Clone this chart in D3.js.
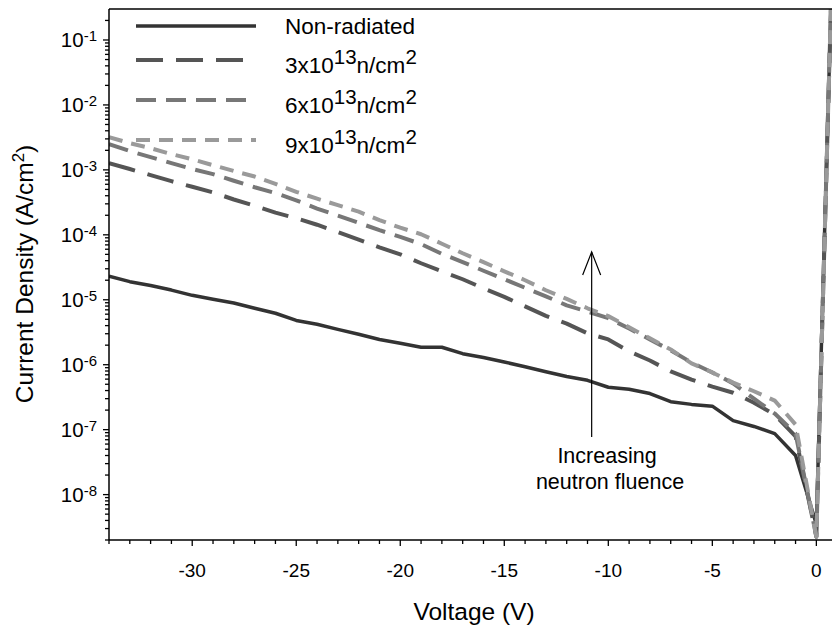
<!DOCTYPE html>
<html>
<head>
<meta charset="utf-8">
<script src="https://cdn.jsdelivr.net/npm/d3@7"></script>
<style>
  body { margin: 0; background: #fff; }
  svg { font-family: "Liberation Sans", Arial, sans-serif; }
</style>
</head>
<body>
<div id="chart"></div>
<script>
// data (V, A/cm2)
var voltage = [-34, -33, -32, -31, -30, -29, -28, -27, -26, -25,
  -24, -23, -22, -21, -20, -19, -18, -17, -16, -15,
  -14, -13, -12, -11, -10, -9, -8, -7, -6, -5,
  -4, -3, -2, -1, 0, 0.7];

var nonRadiated = [2.3e-5, 1.9e-5, 1.66e-5, 1.41e-5, 1.17e-5, 1.02e-5, 8.9e-6, 7.4e-6, 6.2e-6, 4.8e-6,
  4.2e-6, 3.5e-6, 2.95e-6, 2.45e-6, 2.14e-6, 1.86e-6, 1.86e-6, 1.48e-6, 1.29e-6, 1.1e-6,
  9.3e-7, 7.8e-7, 6.6e-7, 5.75e-7, 4.5e-7, 4.2e-7, 3.6e-7, 2.7e-7, 2.45e-7, 2.3e-7,
  1.38e-7, 1.12e-7, 8.7e-8, 4.0e-8, 3.5e-9, 0.3];

var fluence3 = [1.27e-3, 1.03e-3, 8.3e-4, 6.7e-4, 5.5e-4, 4.5e-4, 3.5e-4, 2.8e-4, 2.2e-4, 1.8e-4,
  1.43e-4, 1.1e-4, 8.4e-5, 6.4e-5, 5.0e-5, 3.65e-5, 2.74e-5, 2.07e-5, 1.5e-5, 1.11e-5,
  7.9e-6, 5.65e-6, 4.3e-6, 3.04e-6, 2.45e-6, 1.6e-6, 1.16e-6, 7.9e-7, 5.9e-7, 4.6e-7,
  3.7e-7, 2.6e-7, 1.7e-7, 7.9e-8, 2.25e-9, 0.3];

var fluence6 = [2.5e-3, 1.95e-3, 1.57e-3, 1.27e-3, 1.03e-3, 8.6e-4, 6.8e-4, 5.4e-4, 4.4e-4, 3.4e-4,
  2.54e-4, 1.97e-4, 1.53e-4, 1.18e-4, 9.3e-5, 7.2e-5, 5.1e-5, 3.8e-5, 2.8e-5, 2.07e-5,
  1.53e-5, 1.13e-5, 8.2e-6, 6.6e-6, 5.2e-6, 3.6e-6, 2.45e-6, 1.66e-6, 1.08e-6, 7.6e-7,
  5.15e-7, 3.0e-7, 1.77e-7, 8.7e-8, 2.25e-9, 0.3];

var fluence9 = [3.19e-3, 2.58e-3, 2.16e-3, 1.75e-3, 1.46e-3, 1.18e-3, 9.6e-4, 7.9e-4, 6.1e-4, 4.6e-4,
  3.6e-4, 2.86e-4, 2.27e-4, 1.68e-4, 1.29e-4, 1.02e-4, 7.3e-5, 5.2e-5, 3.8e-5, 2.74e-5,
  2.0e-5, 1.4e-5, 1.03e-5, 7.4e-6, 5.6e-6, 3.76e-6, 2.55e-6, 1.72e-6, 1.05e-6, 7.6e-7,
  5.3e-7, 3.9e-7, 2.8e-7, 1.2e-7, 2.25e-9, 0.3];

var seriesNames = ["Non-radiated", "3x10", "6x10", "9x10"];
var xTicks = [-30, -25, -20, -15, -10, -5, 0];
var yDecades = [-8, -7, -6, -5, -4, -3, -2, -1];

var width = 832, height = 628;
var plotLeft = 109, plotRight = 833, plotTop = 9, plotBottom = 540;

var svg = d3.select("#chart")
  .append("svg")
  .attr("width", width)
  .attr("height", height);

svg.append("rect").attr("width", width).attr("height", height).attr("fill", "#fff");

var x = d3.scaleLinear().domain([-34, 0.8]).range([plotLeft, plotRight]);
var y = d3.scaleLog().domain([2e-9, 0.3]).range([plotBottom, plotTop]);

// series styles
var styles = [
  {values: nonRadiated, color: "#333", width: 3.5, dash: null},
  {values: fluence3, color: "#555", width: 4, dash: "27,13"},
  {values: fluence6, color: "#777", width: 4, dash: "20,10"},
  {values: fluence9, color: "#9a9a9a", width: 4, dash: "14,9"}
];

svg.append("clipPath").attr("id", "plotClip")
  .append("rect")
  .attr("x", plotLeft).attr("y", plotTop)
  .attr("width", plotRight - plotLeft).attr("height", plotBottom - plotTop);

var line = d3.line()
  .x(function(d) { return x(d[0]); })
  .y(function(d) { return y(d[1]); });

var plot = svg.append("g").attr("clip-path", "url(#plotClip)");

plot.selectAll("path")
  .data(styles)
  .enter().append("path")
    .attr("fill", "none")
    .attr("stroke", function(d) { return d.color; })
    .attr("stroke-width", function(d) { return d.width; })
    .attr("stroke-dasharray", function(d) { return d.dash; })
    .attr("stroke-linejoin", "round")
    .attr("d", function(d) { return line(d.values.map(function(v, i) { return [voltage[i], v]; })); });

// x axis
var xAxis = svg.append("g");
xAxis.append("line")
  .attr("x1", plotLeft).attr("x2", width).attr("y1", plotBottom).attr("y2", plotBottom)
  .attr("stroke", "#000").attr("stroke-width", 1.5);
xAxis.selectAll(".minor")
  .data(d3.range(-34, 1))
  .enter().append("line")
    .attr("x1", x).attr("x2", x)
    .attr("y1", plotBottom)
    .attr("y2", function(d) { return plotBottom + (d % 5 === 0 ? 6 : 4); })
    .attr("stroke", "#000").attr("stroke-width", 1.3);
xAxis.selectAll("text")
  .data(xTicks)
  .enter().append("text")
    .attr("x", x)
    .attr("y", 577)
    .attr("text-anchor", "middle")
    .attr("font-size", "19px")
    .text(function(d) { return d; });

// top frame
svg.append("line")
  .attr("x1", plotLeft).attr("x2", width).attr("y1", plotTop).attr("y2", plotTop)
  .attr("stroke", "#000").attr("stroke-width", 1.5);

// y axis
var yAxis = svg.append("g");
yAxis.append("line")
  .attr("x1", plotLeft).attr("x2", plotLeft).attr("y1", plotTop).attr("y2", plotBottom)
  .attr("stroke", "#000").attr("stroke-width", 1.5);

var minorY = [];
d3.range(-9, 0).forEach(function(e) {
  for (var k = 1; k <= 9; ++k) {
    var v = k * Math.pow(10, e);
    if (v >= 2e-9 && v <= 0.3) minorY.push({v: v, major: k === 1});
  }
});

yAxis.selectAll(".tick")
  .data(minorY)
  .enter().append("line")
    .attr("x1", plotLeft)
    .attr("x2", function(d) { return plotLeft - (d.major ? 6 : 4); })
    .attr("y1", function(d) { return y(d.v); })
    .attr("y2", function(d) { return y(d.v); })
    .attr("stroke", "#000").attr("stroke-width", 1.3);

var yLabel = yAxis.selectAll("text")
  .data(yDecades)
  .enter().append("text")
    .attr("x", 97)
    .attr("y", function(d) { return y(Math.pow(10, d)); })
    .attr("dy", "0.36em")
    .attr("text-anchor", "end")
    .attr("font-size", "20.5px");
yLabel.append("tspan").text("10");
yLabel.append("tspan")
  .attr("dy", -6)
  .attr("font-size", "15px")
  .text(function(d) { return "-" + Math.abs(d); });

// axis titles
svg.append("text")
  .attr("x", 474)
  .attr("y", 620)
  .attr("text-anchor", "middle")
  .attr("font-size", "24.5px")
  .text("Voltage (V)");

var yTitle = svg.append("text")
  .attr("transform", "translate(33,274)rotate(-90)")
  .attr("text-anchor", "middle")
  .attr("font-size", "24.5px");
yTitle.append("tspan").text("Current Density (A/cm");
yTitle.append("tspan").attr("dy", -9).attr("font-size", "17px").text("2");
yTitle.append("tspan").attr("dy", 9).text(")");

// legend
var legendY = [26, 60, 100, 140];
var legend = svg.append("g")
  .selectAll("g")
  .data(styles)
  .enter().append("g")
    .attr("transform", function(d, i) { return "translate(0," + legendY[i] + ")"; });

legend.append("line")
  .attr("x1", 136).attr("x2", 256)
  .attr("stroke", function(d) { return d.color; })
  .attr("stroke-width", function(d) { return d.width; })
  .attr("stroke-dasharray", function(d) { return d.dash; });

var legendText = legend.append("text")
  .attr("x", 285)
  .attr("y", function(d, i) { return i === 0 ? 7.5 : 13; })
  .attr("font-size", "22.5px");
legendText.append("tspan").text(function(d, i) { return seriesNames[i]; });
legendText.filter(function(d, i) { return i > 0; }).each(function() {
  var t = d3.select(this);
  t.append("tspan").attr("dy", -9.5).attr("font-size", "20.5px").text("13");
  t.append("tspan").attr("dy", 9.5).text("n/cm");
  t.append("tspan").attr("dy", -9.5).attr("font-size", "20.5px").text("2");
});

// annotation arrow
var arrowX = x(-10.8);
var note = svg.append("g").attr("stroke", "#000").attr("stroke-width", 1.2).attr("fill", "none");
note.append("line").attr("x1", arrowX).attr("x2", arrowX).attr("y1", 437).attr("y2", 252);
note.append("path")
  .attr("d", "M" + (arrowX - 9) + ",275L" + arrowX + ",252L" + (arrowX + 9) + ",275");

svg.append("text")
  .attr("x", 607).attr("y", 463)
  .attr("text-anchor", "middle")
  .attr("font-size", "21.5px")
  .text("Increasing");
svg.append("text")
  .attr("x", 610).attr("y", 489)
  .attr("text-anchor", "middle")
  .attr("font-size", "21.5px")
  .text("neutron fluence");
</script>
</body>
</html>
